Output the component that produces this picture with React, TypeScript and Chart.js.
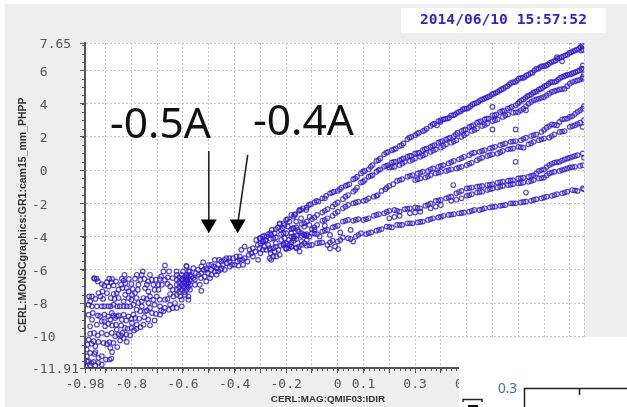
import React, { useEffect, useRef } from "react";
import { Chart, registerables } from "chart.js";

Chart.register(...registerables);

type P = [number, number];

const xTicks = [-0.98, -0.9, -0.8, -0.7, -0.6, -0.5, -0.4, -0.3, -0.2, -0.1, 0, 0.1, 0.2, 0.3, 0.4, 0.5, 0.6, 0.7, 0.8, 0.9, 0.955];
const xTickLabels = ["-0.98", "", "-0.8", "", "-0.6", "", "-0.4", "", "-0.2", "", "0", "0.1", "", "0.3", "", "0.5", "", "", "", "", ""];
const yTicks = [7.65, 6, 4, 2, 0, -2, -4, -6, -8, -10, -11.91];
const yTickLabels = [" 7.65", " 6", " 4", " 2", " 0", "-2", "-4", "-6", "-8", "-10", "-11.91"];

const xTitle = "CERL:MAG:QMIF03:IDIR";
const yTitle = "CERL:MONSCgraphics:GR1:cam15_mm_PHPP";
const timestamp = "2014/06/10 15:57:52";

const arrowOne: P[] = [[-0.5, 1.15], [-0.5, -3.25]];
const arrowTwo: P[] = [[-0.349, 0.91], [-0.388, -3.25]];

const branchA: P[] = [[-.3,-4.1],[-.285,-3.95],[-.27,-3.85],[-.255,-3.6],[-.24,-3.55],[-.225,-3.25],[-.21,-3.2],[-.195,-2.95],[-.18,-2.7],[-.165,-2.65],[-.15,-2.45],[-.135,-2.3],[-.12,-2.25],[-.105,-2.05],[-.09,-1.95],[-.075,-1.9],[-.06,-1.7],[-.045,-1.55],[-.03,-1.4],[-.015,-1.3],[0,-1.25],[.015,-1.05],[.03,-.95],[.045,-.85],[.06,-.55],[.075,-.4],[.09,-.2],[.105,-.05],[.12,.05],[.135,.3],[.15,.55],[.165,.7],[.18,.95],[.195,1.1],[.21,1.2],[.225,1.3],[.24,1.45],[.255,1.6],[.27,1.85],[.285,2],[.3,2.1],[.315,2.25],[.33,2.35],[.345,2.5],[.36,2.65],[.375,2.8],[.385,2.7],[.39,2.95],[.4,3],[.41,3.05],[.425,3.1],[.44,3.3],[.455,3.35],[.47,3.5],[.485,3.65],[.5,3.7],[.515,3.85],[.53,4],[.545,4.1],[.56,4.25],[.575,4.35],[.59,4.45],[.605,4.6],[.62,4.7],[.635,4.85],[.65,5],[.665,5.15],[.68,5.3],[.695,5.4],[.71,5.55],[.725,5.6],[.74,5.75],[.755,5.85],[.77,6.1],[.785,6.2],[.8,6.25],[.815,6.35],[.83,6.5],[.845,6.6],[.86,6.75],[.875,6.85],[.89,6.95],[.905,7.1],[.92,7.2],[.935,7.3],[.95,7.45],[.945,7.2],[.85,6.8],[.87,6.55]];
const branchAMore: P[] = [[-.292,-4],[-.262,-3.8],[-.232,-3.45],[-.2,-3],[-.172,-2.8],[-.142,-2.4],[-.112,-2.1],[-.082,-1.85],[-.05,-1.7],[-.022,-1.35],[.008,-1.15],[.037,-.9],[.068,-.5],[.098,-.1],[.128,.2],[.158,.6],[.188,1.05],[.218,1.25],[.248,1.5],[.278,1.95],[.308,2.2],[.338,2.4],[.368,2.75],[.398,2.9],[.418,3.1],[.432,3.15],[.448,3.3],[.462,3.45],[.478,3.55],[.492,3.7],[.508,3.75],[.522,3.95],[.538,4.05],[.552,4.2],[.568,4.3],[.582,4.4],[.598,4.55],[.612,4.65],[.628,4.8],[.642,4.9],[.658,5.05],[.672,5.25],[.688,5.3],[.702,5.5],[.718,5.55],[.732,5.7],[.748,5.85],[.762,6],[.778,6.1],[.792,6.25],[.808,6.3],[.822,6.45],[.838,6.55],[.852,6.7],[.868,6.8],[.882,6.9],[.898,7.05],[.912,7.15],[.928,7.25],[.942,7.4],[.952,7.25],[.948,7.55]];

const branchB: P[] = [[-.3,-4.4],[-.28,-4.25],[-.26,-4.15],[-.24,-4.05],[-.22,-3.85],[-.2,-3.8],[-.18,-3.55],[-.16,-3.45],[-.14,-3.25],[-.12,-3.1],[-.1,-2.95],[-.08,-2.7],[-.06,-2.55],[-.04,-2.35],[-.02,-2.2],[0,-1.95],[.02,-1.75],[.04,-1.5],[.06,-1.3],[.075,-1.05],[.09,-.75],[.105,-.6],[.12,-.4],[.135,-.3],[.15,-.1],[.165,.05],[.18,.2],[.195,.3],[.21,.45],[.225,.5],[.24,.6],[.255,.7],[.27,.8],[.285,.85],[.3,1],[.315,1.05],[.33,1.2],[.345,1.3],[.36,1.4],[.375,1.5],[.39,1.65],[.405,1.75],[.42,1.85],[.435,1.95],[.45,2.05],[.465,2.25],[.48,2.35],[.495,2.45],[.51,2.6],[.525,2.7],[.54,2.85],[.555,2.95],[.57,3.05],[.585,3.1],[.6,3.3],[.615,3.35],[.63,3.5],[.645,3.6],[.66,3.7],[.675,3.8],[.69,3.9],[.705,4.1],[.72,4.25],[.735,4.45],[.75,4.55],[.765,4.7],[.78,4.85],[.795,4.95],[.81,5.1],[.825,5.3],[.84,5.3],[.855,5.45],[.87,5.6],[.885,5.7],[.9,5.75],[.915,5.85],[.93,5.95],[.945,6.1],[.95,6.3]];
const branchBMore: P[] = [[-.29,-4.3],[-.25,-4.1],[-.21,-3.8],[-.17,-3.5],[-.13,-3.2],[-.09,-2.85],[-.05,-2.45],[-.01,-2.05],[.03,-1.6],[.068,-1.2],[.098,-.7],[.128,-.35],[.158,0],[.188,.25],[.218,.5],[.248,.65],[.278,.85],[.308,1],[.338,1.25],[.368,1.45],[.398,1.7],[.428,1.9],[.458,2.15],[.488,2.4],[.518,2.65],[.548,2.9],[.578,3.1],[.608,3.3],[.638,3.55],[.668,3.75],[.698,4],[.712,4.2],[.728,4.35],[.742,4.5],[.758,4.65],[.772,4.75],[.788,4.9],[.802,5.05],[.818,5.2],[.832,5.3],[.848,5.35],[.862,5.55],[.878,5.65],[.892,5.75],[.908,5.8],[.922,5.9],[.938,6],[.952,6.1]];

const branchC: P[] = [[.2,.15],[.22,.2],[.24,.3],[.26,.5],[.28,.55],[.3,.7],[.32,.8],[.34,.95],[.36,1.1],[.38,1.25],[.4,1.35],[.42,1.55],[.44,1.65],[.46,1.8],[.48,2],[.5,2.2],[.52,2.35],[.54,2.5],[.56,2.65],[.58,2.8],[.6,2.95],[.62,3.05],[.64,3.2],[.66,3.35],[.68,3.45],[.7,3.5],[.72,3.7],[.74,4],[.76,4.2],[.78,4.3],[.8,4.4],[.82,4.6],[.84,4.75],[.86,4.85],[.88,4.9],[.9,5.2],[.92,5.35],[.94,5.45],[.95,5.6]];
const branchCMore: P[] = [[.21,.18],[.25,.4],[.29,.62],[.33,.88],[.37,1.18],[.41,1.45],[.45,1.72],[.49,2.1],[.53,2.42],[.57,2.72],[.61,3],[.65,3.28],[.69,3.48],[.71,3.6],[.73,3.85],[.75,4.1],[.77,4.25],[.79,4.35],[.81,4.5],[.83,4.7],[.85,4.8],[.87,4.88],[.89,5.05],[.91,5.3],[.93,5.4],[.95,5.5],[.955,5.75]];

const branchD: P[] = [[-.26,-4.8],[-.24,-4.6],[-.22,-4.55],[-.2,-4.4],[-.18,-4.35],[-.16,-4.15],[-.14,-3.95],[-.12,-3.85],[-.1,-3.55],[-.08,-3.3],[-.06,-3.05],[-.04,-2.9],[-.02,-2.75],[0,-2.5],[.02,-2.3],[.04,-2.1],[.06,-2],[.08,-1.9],[.1,-1.85],[.12,-1.7],[.14,-1.6],[.155,-1.5],[.17,-1.25],[.185,-1.15],[.2,-.95],[.215,-.85],[.23,-.65],[.25,-.55],[.27,-.4],[.29,-.3],[.31,-.2],[.33,-.1],[.35,-.05],[.37,.1],[.39,.2],[.41,.3],[.43,.4],[.45,.55],[.47,.65],[.49,.8],[.51,.9],[.53,1.05],[.55,1.1],[.57,1.2],[.59,1.3],[.61,1.4],[.63,1.5],[.65,1.6],[.67,1.7],[.69,1.75],[.71,1.8],[.73,1.95],[.75,2.05],[.77,2.15],[.79,2.3],[.81,2.55],[.83,2.75],[.85,2.7],[.87,3.05],[.89,3.1],[.91,3.25],[.93,3.5],[.95,3.7]];
const branchDMore: P[] = [[-.25,-4.7],[-.21,-4.45],[-.17,-4.25],[-.13,-3.9],[-.09,-3.45],[-.05,-3],[-.01,-2.6],[.03,-2.2],[.07,-1.95],[.11,-1.8],[.15,-1.55],[.19,-1.05],[.24,-.6],[.28,-.35],[.32,-.15],[.36,.05],[.4,.25],[.44,.48],[.48,.72],[.52,1],[.56,1.15],[.6,1.35],[.64,1.55],[.68,1.72],[.72,1.88],[.76,2.1],[.8,2.42],[.82,2.65],[.84,2.72],[.86,2.9],[.88,3.08],[.9,3.2],[.92,3.38],[.94,3.6],[.955,3.85]];

const branchE: P[] = [[.3,-.6],[.32,-.5],[.34,-.45],[.36,-.3],[.38,-.2],[.4,-.1],[.42,-.05],[.44,.05],[.46,.1],[.48,.2],[.5,.3],[.52,.45],[.54,.6],[.56,.75],[.58,.85],[.6,.95],[.62,1],[.64,1.15],[.66,1.25],[.68,1.3],[.7,1.4],[.72,1.35],[.74,1.55],[.76,1.7],[.78,1.8],[.8,1.9],[.82,1.95],[.84,2.15],[.86,2.3],[.88,2.35],[.9,2.6],[.92,2.7],[.94,2.85],[.95,2.6]];
const branchEMore: P[] = [[.31,-.55],[.35,-.38],[.39,-.15],[.43,0],[.47,.15],[.51,.38],[.55,.68],[.59,.9],[.63,1.08],[.67,1.28],[.71,1.38],[.75,1.62],[.79,1.85],[.83,2.05],[.87,2.32],[.91,2.65],[.93,2.78],[.955,3]];

const branchF: P[] = [[-.18,-4],[-.16,-3.95],[-.14,-3.8],[-.12,-3.95],[-.1,-3.8],[-.08,-3.85],[-.06,-3.7],[-.04,-3.6],[-.02,-3.45],[0,-3.35],[.02,-3.1],[.04,-3],[.06,-3.05],[.08,-2.95],[.1,-3],[.12,-2.9],[.14,-2.75],[.16,-2.65],[.18,-2.6],[.2,-2.45],[.22,-2.4],[.24,-2.5],[.26,-2.35],[.28,-2.3],[.3,-2.25],[.32,-2.3],[.34,-2.15],[.36,-2],[.38,-1.85],[.4,-1.8],[.42,-1.7],[.44,-1.6],[.46,-1.4],[.48,-1.25],[.5,-1.1],[.52,-1.05],[.54,-1],[.56,-.95],[.58,-.9],[.6,-.85],[.62,-.75],[.64,-.7],[.66,-.65],[.68,-.6],[.7,-.5],[.72,-.45],[.74,-.4],[.76,-.3],[.78,-.05],[.8,.05],[.82,.3],[.84,.45],[.86,.5],[.88,.65],[.9,.75],[.92,.85],[.95,1]];
const branchFMore: P[] = [[-.17,-3.98],[-.13,-3.88],[-.09,-3.82],[-.05,-3.65],[-.01,-3.4],[.03,-3.05],[.07,-3],[.11,-2.95],[.15,-2.7],[.19,-2.52],[.23,-2.45],[.27,-2.32],[.31,-2.28],[.35,-2.08],[.39,-1.82],[.43,-1.65],[.47,-1.32],[.51,-1.08],[.55,-.98],[.59,-.88],[.63,-.72],[.67,-.62],[.71,-.48],[.75,-.35],[.77,-.2],[.79,0],[.81,.18],[.83,.38],[.85,.48],[.87,.58],[.89,.7],[.91,.8],[.93,.9],[.955,.75]];

const branchG: P[] = [[.2,-2.9],[.24,-2.75],[.28,-2.6],[.32,-2.5],[.36,-2.3],[.4,-2.1],[.44,-1.85],[.48,-1.7],[.5,-1.55],[.52,-1.45],[.54,-1.35],[.56,-1.3],[.58,-1.2],[.6,-1.1],[.62,-1.05],[.64,-.95],[.66,-.9],[.68,-.85],[.7,-.8],[.72,-.75],[.74,-.7],[.76,-.6],[.78,-.5],[.8,-.45],[.82,-.2],[.84,-.1],[.86,-.05],[.88,.05],[.9,.15],[.92,.2],[.95,.3]];
const branchGMore: P[] = [[.22,-2.82],[.3,-2.55],[.38,-2.2],[.46,-1.78],[.51,-1.5],[.55,-1.32],[.59,-1.15],[.63,-1],[.67,-.88],[.71,-.78],[.75,-.65],[.79,-.48],[.81,-.32],[.83,-.15],[.87,0],[.89,.1],[.91,.18],[.94,.25]];

const branchH: P[] = [[-.2,-4.75],[-.18,-4.6],[-.16,-4.65],[-.14,-4.5],[-.12,-4.55],[-.1,-4.5],[-.08,-4.4],[-.06,-4.35],[-.04,-4.5],[-.02,-4.25],[0,-4.3],[.02,-4.05],[.04,-4.1],[.06,-4.3],[.07,-4],[.09,-3.8],[.11,-3.85],[.13,-3.75],[.15,-3.65],[.17,-3.55],[.19,-3.4],[.21,-3.45],[.23,-3.3],[.25,-3.3],[.27,-3.2],[.29,-3.2],[.31,-3.15],[.33,-3.1],[.35,-3],[.37,-2.9],[.39,-2.85],[.41,-2.75],[.43,-2.7],[.45,-2.65],[.47,-2.6],[.49,-2.55],[.51,-2.5],[.53,-2.4],[.55,-2.4],[.57,-2.3],[.59,-2.25],[.61,-2.2],[.63,-2.15],[.65,-2.1],[.67,-2],[.69,-2],[.71,-1.95],[.73,-1.9],[.75,-1.85],[.77,-1.75],[.79,-1.7],[.81,-1.6],[.83,-1.55],[.85,-1.45],[.87,-1.4],[.89,-1.3],[.91,-1.2],[.93,-1.25],[.95,-1.1]];
const branchHMore: P[] = [[-.19,-4.7],[-.15,-4.6],[-.11,-4.52],[-.07,-4.38],[-.03,-4.35],[.01,-4.2],[.05,-4.15],[.08,-3.9],[.12,-3.8],[.16,-3.6],[.2,-3.42],[.24,-3.3],[.28,-3.2],[.32,-3.12],[.36,-2.95],[.4,-2.8],[.44,-2.68],[.48,-2.58],[.52,-2.45],[.56,-2.35],[.6,-2.22],[.64,-2.12],[.68,-2],[.72,-1.92],[.76,-1.8],[.8,-1.65],[.84,-1.5],[.88,-1.35],[.92,-1.22],[.955,-1.15]];

const fanCore: P[] = [[-.587,-5.76],[-.6,-6.1],[-.574,-6.1],[-.587,-6.4],[-.567,-6.4],[-.554,-6.6],[-.6,-6.6],[-.58,-6.8],[-.554,-6.9],[-.535,-6.9],[-.6,-7],[-.529,-7.26],[-.522,-5.54],[-.529,-5.8],[-.509,-5.9],[-.49,-5.7],[-.477,-5.4],[-.464,-5.7],[-.451,-5.5],[-.432,-5.3],[-.438,-6],[-.477,-6.1],[-.503,-6.2],[-.529,-6.2],[-.541,-6],[-.516,-6.4],[-.49,-6.3],[-.464,-6.1],[-.445,-5.7],[-.419,-5.5],[-.406,-5.3],[-.393,-5.2],[-.38,-5.4],[-.367,-5.7],[-.4,-5.7],[-.419,-5.8],[-.38,-5.2],[-.361,-5.3],[-.342,-4.8],[-.361,-4.6],[-.374,-4.8],[-.329,-4.7],[-.329,-5.2],[-.309,-5.4],[-.303,-4.1],[-.29,-4.3],[-.316,-4.2],[-.303,-4.7],[-.283,-4.6],[-.264,-4.7],[-.277,-4],[-.258,-3.9],[-.245,-3.8],[-.264,-5.3],[-.258,-5.4],[-.238,-5.2],[-.225,-5.1],[-.219,-4.2],[-.225,-3.2],[-.206,-3.3],[-.187,-3.1],[-.167,-2.7],[-.148,-2.4],[-.122,-2.4],[-.193,-3.4],[-.213,-3.5],[-.174,-3.5],[-.155,-3.6],[-.161,-3.1],[-.142,-2.9],[-.109,-2.8],[-.206,-4.1],[-.187,-4.5],[-.161,-4.7],[-.148,-4.9],[-.2,-4.7],[-.18,-4.6],[-.129,-4.4],[-.109,-4],[-.277,-4.8],[-.245,-4.9],[.002,-4.75],[-.03,-4.72],[.01,-3.75],[.05,-3.6]];
const fanCoreMore: P[] = [[-.56,-5.9],[-.55,-6.2],[-.53,-6.5],[-.51,-6],[-.5,-5.7],[-.49,-6],[-.48,-5.8],[-.47,-5.9],[-.46,-5.4],[-.45,-5.9],[-.44,-5.4],[-.43,-5.6],[-.42,-5.3],[-.41,-5.7],[-.39,-5.5],[-.385,-5.75],[-.37,-5.4],[-.35,-5.5],[-.345,-5.1],[-.335,-5],[-.32,-4.9],[-.31,-4.5],[-.3,-5],[-.29,-4.8],[-.28,-4.2],[-.27,-4.5],[-.26,-5],[-.25,-5.2],[-.24,-4.4],[-.23,-4.8],[-.22,-3.6],[-.21,-4.5],[-.19,-4.2],[-.18,-3.8],[-.17,-4.1],[-.15,-3.7],[-.14,-4.3],[-.13,-3.4],[-.12,-4.2],[-.11,-3.3],[-.09,-3.6],[-.07,-4],[-.05,-3.35],[-.03,-3.9],[-.51,-6.7],[-.54,-6.3],[-.56,-6.5],[-.52,-6],[-.495,-6.5],[-.47,-6.3],[-.455,-6]];

const leftCloud: P[] = [[-.67,-5.74],[-.676,-6.1],[-.654,-6.1],[-.685,-6.4],[-.659,-6.46],[-.756,-6.1],[-.76,-6.3],[-.728,-6.3],[-.721,-6.6],[-.779,-6.3],[-.786,-6.54],[-.827,-6.3],[-.837,-6.54],[-.824,-6.8],[-.943,-6.54],[-.935,-6.54],[-.886,-6.54],[-.878,-6.74],[-.869,-6.94],[-.889,-7],[-.915,-6.86],[-.912,-7.3],[-.928,-7.4],[-.953,-7.6],[-.964,-7.6],[-.895,-7.4],[-.869,-7.46],[-.857,-7.4],[-.835,-7.1],[-.818,-7.1],[-.811,-7.3],[-.811,-7.7],[-.824,-7.5],[-.798,-7.5],[-.786,-7.4],[-.773,-6.9],[-.74,-6.9],[-.747,-7.1],[-.715,-6.9],[-.695,-6.9],[-.682,-6.9],[-.734,-7.3],[-.728,-7.6],[-.695,-7.2],[-.702,-7.6],[-.689,-8.2],[-.67,-7.8],[-.65,-7.46],[-.637,-7.6],[-.611,-7.6],[-.605,-8.2],[-.631,-8],[-.65,-8.1],[-.67,-8.3],[-.689,-8.7],[-.676,-8.5],[-.966,-8.1],[-.953,-8.2],[-.934,-8.2],[-.915,-8.2],[-.889,-8.2],[-.869,-8.1],[-.83,-8.2],[-.818,-8.2],[-.792,-8.1],[-.773,-8],[-.753,-7.7],[-.734,-8],[-.728,-8.3],[-.747,-8.5],[-.766,-8.5],[-.792,-8.7],[-.811,-8.8],[-.798,-9.2],[-.779,-9.3],[-.753,-9.3],[-.728,-9.34],[-.876,-8.6],[-.863,-8.9],[-.857,-8.8],[-.837,-9],[-.882,-9],[-.921,-8.8],[-.915,-9.1],[-.934,-9.3],[-.953,-9],[-.966,-8.7],[-.96,-9.4],[-.902,-9.4],[-.915,-9.8],[-.895,-9.9],[-.876,-9.8],[-.857,-9.6],[-.85,-9.9],[-.844,-10.26],[-.818,-10.34],[-.863,-10],[-.966,-10.2],[-.947,-10.3],[-.928,-10.34],[-.908,-10.4],[-.895,-10.46],[-.94,-10.6],[-.882,-10.7],[-.973,-10.8],[-.973,-11.2],[-.943,-11.06],[-.928,-11.3],[-.899,-11.4],[-.878,-11.34],[-.966,-11.5],[-.947,-11.54],[-.928,-11.6],[-.96,-11.76],[-.94,-11.76],[-.973,-11.5]];
const leftCloudMore: P[] = [[-.945,-6.5],[-.93,-6.7],[-.905,-6.95],[-.895,-6.75],[-.875,-6.55],[-.86,-6.7],[-.85,-7.2],[-.84,-6.9],[-.83,-6.65],[-.81,-6.55],[-.8,-6.85],[-.795,-7.15],[-.775,-7.2],[-.765,-6.6],[-.75,-6.55],[-.735,-6.7],[-.71,-7.2],[-.705,-6.6],[-.69,-6.55],[-.67,-6.6],[-.66,-6.85],[-.64,-6.5],[-.65,-7],[-.64,-7.2],[-.625,-6.1],[-.96,-7.9],[-.94,-7.75],[-.92,-7.6],[-.91,-7.75],[-.88,-7.7],[-.865,-7.75],[-.85,-7.7],[-.83,-7.9],[-.8,-7.8],[-.78,-7.7],[-.76,-7.9],[-.74,-7.75],[-.715,-7.8],[-.71,-8.1],[-.69,-7.8],[-.66,-7.75],[-.655,-8.4],[-.64,-8.3],[-.625,-8.3],[-.905,-8.2],[-.88,-8.2],[-.855,-8.2],[-.845,-8.2],[-.805,-8.2],[-.78,-8.4],[-.76,-8.2],[-.74,-8.45],[-.72,-8.6],[-.705,-8.65],[-.685,-8.45],[-.95,-8.6],[-.93,-8.75],[-.905,-8.7],[-.89,-8.8],[-.87,-8.75],[-.85,-8.75],[-.83,-8.7],[-.82,-9.05],[-.8,-8.95],[-.785,-8.9],[-.77,-8.95],[-.75,-8.85],[-.735,-9],[-.71,-9.05],[-.905,-9.1],[-.89,-9.25],[-.875,-9.35],[-.86,-9.3],[-.84,-9.35],[-.825,-9.5],[-.815,-9.55],[-.8,-9.5],[-.79,-9.65],[-.78,-9.55],[-.765,-9.45],[-.835,-9.8],[-.82,-9.9],[-.805,-9.95],[-.83,-10.1],[-.84,-9.95],[-.96,-9.85],[-.945,-9.8],[-.93,-9.95],[-.97,-10.5],[-.955,-10.45],[-.885,-10.35],[-.87,-10.4],[-.855,-10.65],[-.96,-11],[-.94,-10.95],[-.915,-11.2],[-.955,-11.6],[-.915,-11.7],[-.975,-11.85],[-.885,-11.4],[-.875,-10.95]];

const denseColumn: P[] = [[-.624,-6.3],[-.605,-6.3],[-.586,-6.3],[-.573,-6.3],[-.624,-6.6],[-.605,-6.6],[-.586,-6.6],[-.573,-6.6],[-.624,-6.9],[-.605,-6.9],[-.586,-6.9],[-.573,-6.9],[-.624,-7.2],[-.605,-7.2],[-.586,-7.2],[-.573,-7.2],[-.624,-7.5],[-.592,-7.5],[-.579,-7.6],[-.605,-7.8],[-.579,-7.8],[-.586,-5.8],[-.579,-6.1],[-.615,-6.45],[-.595,-6.45],[-.58,-6.45],[-.615,-6.75],[-.595,-6.75],[-.58,-6.75],[-.615,-7.05],[-.595,-7.05],[-.58,-7.05],[-.615,-7.35],[-.595,-7.35]];

const outliers: P[] = [[.448,-.9],[.69,.5],[.73,-1.35],[.6,3.8],[.6,2.45],[.69,2.45],[.73,3.6],[-.01,-4.6]];

const cloudSeries = [branchA, branchAMore, branchB, branchBMore, branchC, branchCMore, branchD, branchDMore, branchE, branchEMore, branchF, branchFMore, branchG, branchGMore, branchH, branchHMore, fanCore, fanCoreMore, leftCloud, leftCloudMore, denseColumn, outliers];

const MONO = '"DejaVu Sans Mono", monospace';
const AXIS = "#555555";

const decorPlugin = {
  id: "decor",
  beforeDraw(chart: any) {
    const { ctx, chartArea: a } = chart;
    ctx.save();
    ctx.fillStyle = "#eeeeee";
    ctx.fillRect(5, 4, 622, 403);
    ctx.fillStyle = "#ffffff";
    ctx.fillRect(a.left, a.top, a.right - a.left, a.bottom - a.top);
    ctx.fillRect(401, 8, 205, 25);
    ctx.restore();
  },
  afterDatasetsDraw(chart: any) {
    const { ctx, scales } = chart;
    ctx.save();
    ctx.fillStyle = "#111111";
    ctx.font = '42.5px "Noto Sans"';
    ctx.textAlign = "left";
    ctx.textBaseline = "alphabetic";
    ctx.fillText("-0.5A", 110, 138);
    ctx.fillText("-0.4A", 253, 135);
    ctx.restore();

    ctx.save();
    ctx.strokeStyle = AXIS;
    ctx.lineWidth = 1;
    const yb = scales.y.bottom;
    for (let v = -0.98; v < 0.95; v += 0.02) {
      const px = Math.round(scales.x.getPixelForValue(v)) + 0.5;
      ctx.beginPath();
      ctx.moveTo(px, yb);
      ctx.lineTo(px, yb + 3);
      ctx.stroke();
    }
    const xl = scales.x.left;
    for (let v = -11.5; v < 7.65; v += 0.5) {
      const py = Math.round(scales.y.getPixelForValue(v)) + 0.5;
      ctx.beginPath();
      ctx.moveTo(xl, py);
      ctx.lineTo(xl - 3, py);
      ctx.stroke();
    }
    ctx.restore();
  },
  afterDraw(chart: any) {
    const { ctx } = chart;
    ctx.save();
    ctx.fillStyle = "#3a22c8";
    ctx.font = `bold 14.6px ${MONO}`;
    ctx.textAlign = "left";
    ctx.textBaseline = "middle";
    ctx.fillText(timestamp, 420, 20.5);

    ctx.fillStyle = "#333333";
    ctx.font = 'bold 9.8px "Liberation Sans"';
    ctx.textAlign = "center";
    ctx.fillText(xTitle, 328, 399);
    ctx.font = 'bold 10.5px "Liberation Sans"';
    ctx.translate(23, 215);
    ctx.rotate(-Math.PI / 2);
    ctx.fillText(yTitle, 0, 0);
    ctx.restore();

    ctx.save();
    ctx.fillStyle = "#ffffff";
    ctx.fillRect(459, 337, 168, 70);
    ctx.fillStyle = "#3b6ea8";
    ctx.font = '13.5px "Noto Sans"';
    ctx.textAlign = "left";
    ctx.textBaseline = "middle";
    ctx.fillText("0.3", 498, 389);
    ctx.strokeStyle = "#222222";
    ctx.lineWidth = 1.5;
    ctx.beginPath();
    ctx.moveTo(524.5, 407);
    ctx.lineTo(524.5, 388.5);
    ctx.lineTo(627, 388.5);
    ctx.moveTo(579.5, 388.5);
    ctx.lineTo(579.5, 395);
    ctx.moveTo(463, 402);
    ctx.lineTo(463, 399.5);
    ctx.lineTo(482, 399.5);
    ctx.lineTo(482, 402);
    ctx.stroke();
    ctx.fillStyle = "#111111";
    ctx.fillRect(468, 405, 10, 2);
    ctx.restore();
  },
};

export default function App() {
  const ref = useRef<HTMLCanvasElement | null>(null);
  useEffect(() => {
    document.body.style.margin = "0";
    const arrow = (data: P[]) => ({
      data: data.map(([x, y]) => ({ x, y })),
      showLine: true,
      borderColor: "#222222",
      borderWidth: 1.6,
      backgroundColor: "#000000",
      pointBorderColor: "#000000",
      pointBackgroundColor: "#000000",
      pointBorderWidth: 0,
      pointStyle: "triangle",
      pointRotation: 180,
      pointRadius: [0, 9.2],
      clip: false,
    });
    const chart = new Chart(ref.current as HTMLCanvasElement, {
      type: "scatter",
      data: {
        datasets: [
          arrow(arrowOne),
          arrow(arrowTwo),
          ...cloudSeries.map((s) => ({
            data: s.map(([x, y]) => ({ x, y })),
            pointStyle: "circle",
            pointRadius: 2.3,
            pointBorderWidth: 1.2,
            pointBorderColor: "rgba(48,24,200,0.8)",
            pointBackgroundColor: "rgba(0,0,0,0)",
          })),
        ],
      } as any,
      options: {
        responsive: false,
        animation: false,
        layout: { padding: { left: 32, right: 43, top: 43, bottom: 0 } },
        plugins: { legend: { display: false }, tooltip: { enabled: false } },
        scales: {
          x: {
            type: "linear",
            min: -0.98,
            max: 0.955,
            afterFit: (s: any) => { s.height = 39; },
            afterBuildTicks: (s: any) => { s.ticks = xTicks.map((value) => ({ value })); },
            grid: { color: "#c4c4c4", tickColor: AXIS, tickLength: 5, tickWidth: 1 },
            border: { color: AXIS, width: 2, dash: [2, 2] },
            ticks: {
              autoSkip: false,
              maxRotation: 0,
              padding: 4,
              color: "#555555",
              font: { family: MONO, size: 13 },
              callback: (_v: any, i: number) => xTickLabels[i],
            },
          },
          y: {
            type: "linear",
            min: -11.91,
            max: 7.65,
            afterFit: (s: any) => { s.width = 53; },
            afterBuildTicks: (s: any) => { s.ticks = yTicks.map((value) => ({ value })); },
            grid: { color: "#c4c4c4", tickColor: AXIS, tickLength: 5, tickWidth: 1 },
            border: { color: AXIS, width: 2, dash: [2, 2] },
            ticks: {
              autoSkip: false,
              crossAlign: "far",
              padding: 4,
              color: "#555555",
              font: { family: MONO, size: 13, lineHeight: 0.28 },
              callback: (_v: any, i: number) => ["", yTickLabels[i]],
            },
          },
        },
      } as any,
      plugins: [decorPlugin],
    } as any);
    return () => chart.destroy();
  }, []);
  return <canvas ref={ref} width={627} height={407} style={{ display: "block", filter: "blur(0.4px)" }} />;
}
